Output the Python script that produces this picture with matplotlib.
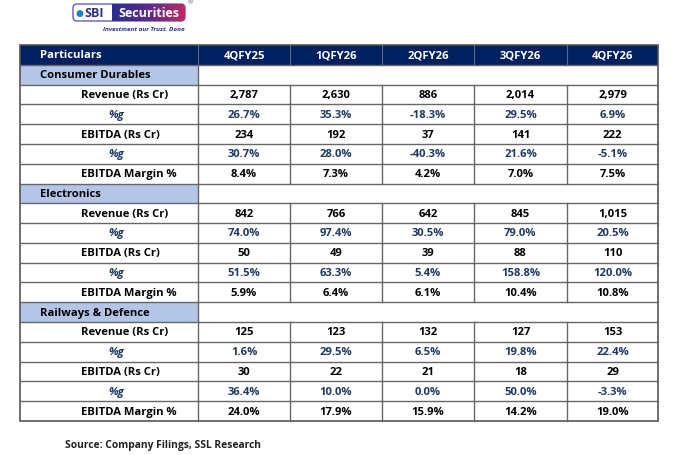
import matplotlib
matplotlib.use("Agg")
import matplotlib.pyplot as plt
import numpy as np
from matplotlib.patches import Rectangle, FancyBboxPatch
from matplotlib.colors import LinearSegmentedColormap

plt.rcParams['font.family'] = ['Open Sans', 'DejaVu Sans']

periods = ["4QFY25", "1QFY26", "2QFY26", "3QFY26", "4QFY26"]
row_labels = ["Revenue (Rs Cr)", "%g", "EBITDA (Rs Cr)", "%g", "EBITDA Margin %"]

segments = ["Consumer Durables", "Electronics", "Railways & Defence"]

consumer_durables = [
    ["2,787", "2,630", "886", "2,014", "2,979"],
    ["26.7%", "35.3%", "-18.3%", "29.5%", "6.9%"],
    ["234", "192", "37", "141", "222"],
    ["30.7%", "28.0%", "-40.3%", "21.6%", "-5.1%"],
    ["8.4%", "7.3%", "4.2%", "7.0%", "7.5%"],
]
electronics = [
    ["842", "766", "642", "845", "1,015"],
    ["74.0%", "97.4%", "30.5%", "79.0%", "20.5%"],
    ["50", "49", "39", "88", "110"],
    ["51.5%", "63.3%", "5.4%", "158.8%", "120.0%"],
    ["5.9%", "6.4%", "6.1%", "10.4%", "10.8%"],
]
railways_defence = [
    ["125", "123", "132", "127", "153"],
    ["1.6%", "29.5%", "6.5%", "19.8%", "22.4%"],
    ["30", "22", "21", "18", "29"],
    ["36.4%", "10.0%", "0.0%", "50.0%", "-3.3%"],
    ["24.0%", "17.9%", "15.9%", "14.2%", "19.0%"],
]
segment_rows = [consumer_durables, electronics, railways_defence]

source_text = "Source: Company Filings, SSL Research"

# layout (pixel space)
W, H = 680, 456
col_edges = [20, 198, 290, 382, 474, 567, 658]
top, bottom = 46, 422
n_rows = 1 + len(segments) * (1 + len(row_labels))
rh = (bottom - top) / n_rows

navy = "#002060"
growth_col = "#1f3864"
section_bg = "#b4c6e7"
grid_col = "#666666"
fs = 8.1

fig = plt.figure(figsize=(W / 100, H / 100), dpi=100)
ax = fig.add_axes([0, 0, 1, 1])
ax.set_xlim(0, W)
ax.set_ylim(H, 0)
ax.axis("off")

# header row
ax.add_patch(Rectangle((col_edges[0], top), col_edges[-1] - col_edges[0], rh,
                       facecolor=navy, edgecolor="none"))
ax.text(40, top + rh / 2, "Particulars", color="white", fontsize=fs,
        fontweight="bold", va="center", ha="left")
for j, p in enumerate(periods):
    xc = (col_edges[j + 1] + col_edges[j + 2]) / 2
    ax.text(xc, top + rh / 2, p, color="white", fontsize=fs, fontweight="bold",
            va="center", ha="center")
for x in col_edges[1:-1]:
    ax.plot([x, x], [top, top + rh], color="#5a6a90", lw=0.8)

y = top + rh
for seg, rows in zip(segments, segment_rows):
    # section row
    ax.add_patch(Rectangle((col_edges[0], y), col_edges[1] - col_edges[0], rh,
                           facecolor=section_bg, edgecolor="none"))
    ax.text(40, y + rh / 2, seg, color="black", fontsize=fs, fontweight="bold",
            va="center", ha="left")
    ax.plot([col_edges[0], col_edges[-1]], [y, y], color=grid_col, lw=1)
    ax.plot([col_edges[1], col_edges[1]], [y, y + rh], color=grid_col, lw=1)
    y += rh
    for label, vals in zip(row_labels, rows):
        is_g = label == "%g"
        c = growth_col if is_g else "black"
        ax.plot([col_edges[0], col_edges[-1]], [y, y], color=grid_col, lw=1)
        for x in col_edges[1:-1]:
            ax.plot([x, x], [y, y + rh], color=grid_col, lw=1)
        if is_g:
            ax.text(108, y + rh / 2, label, color=c, fontsize=fs, fontweight="bold",
                    style="italic", va="center", ha="left")
        else:
            ax.text(81, y + rh / 2, label, color=c, fontsize=fs, fontweight="bold",
                    va="center", ha="left")
        for j, v in enumerate(vals):
            xc = (col_edges[j + 1] + col_edges[j + 2]) / 2
            ax.text(xc, y + rh / 2, v, color=c, fontsize=fs, fontweight="bold",
                    va="center", ha="center")
        y += rh

# outer border
ax.add_patch(Rectangle((col_edges[0], top), col_edges[-1] - col_edges[0], bottom - top,
                       facecolor="none", edgecolor="#555555", lw=1.2))

# logo
grad = np.linspace(0, 1, 256).reshape(1, -1)
cmap = LinearSegmentedColormap.from_list("sbi", ["#2b2f8f", "#5b2a8c", "#c42a5c"])
ax.add_patch(FancyBboxPatch((73, 5), 112, 17, boxstyle="round,pad=0,rounding_size=4",
                            facecolor="none", edgecolor="#3a3a9a", lw=0.8))
im = ax.imshow(grad, extent=[112, 185, 22, 5], cmap=cmap, aspect="auto", zorder=1)
clip = FancyBboxPatch((73, 5), 112, 17, boxstyle="round,pad=0,rounding_size=4",
                      facecolor="none", edgecolor="none", transform=ax.transData)
ax.add_patch(clip)
im.set_clip_path(clip)
ax.text(76, 13.5, "\u25CF", color="#1a7fc4", fontsize=6.5, va="center", ha="left", zorder=3)
ax.text(84, 13.5, "SBI", color="#2b2f8f", fontsize=9, fontweight="bold",
        va="center", ha="left", zorder=3)
ax.text(149, 13.5, "Securities", color="white", fontsize=9, fontweight="bold",
        va="center", ha="center", zorder=3)
ax.text(188, 3, "\u00AE", color="#555555", fontsize=4.5, va="center", ha="left")
ax.text(185, 29, "Investment aur Trust, Dono", color="#2b2f8f", fontsize=4.6,
        style="italic", fontweight="bold", va="center", ha="right")

# source
ax.text(65, 446, source_text, color="#222222", fontsize=7.4, fontweight="bold",
        va="center", ha="left")

fig.savefig("out.png", dpi=100, facecolor="white")
